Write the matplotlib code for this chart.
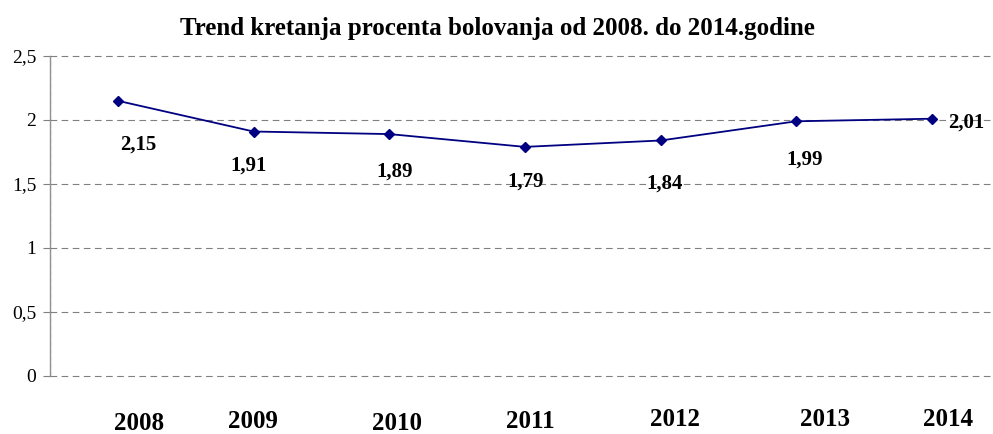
import matplotlib
matplotlib.use("Agg")
import matplotlib.pyplot as plt

years = ["2008", "2009", "2010", "2011", "2012", "2013", "2014"]
values = [2.15, 1.91, 1.89, 1.79, 1.84, 1.99, 2.01]
value_labels = ["2,15", "1,91", "1,89", "1,79", "1,84", "1,99", "2,01"]
yticks = [0, 0.5, 1, 1.5, 2, 2.5]
ytick_labels = ["0", "0,5", "1", "1,5", "2", "2,5"]
title = "Trend kretanja procenta bolovanja od 2008. do 2014.godine"

# label offsets in pixels (dx right, dy down)
val_offsets = [(20, 44), (-5, 34.5), (5, 38), (1, 35), (4, 43.5), (8, 38), (34, 4)]
year_offsets = [(21, 47), (-1, 46), (8, 47), (5, 46), (14, 44), (29, 44), (16, 44)]

W, H, DPI = 993, 434, 100
fig = plt.figure(figsize=(W / DPI, H / DPI), dpi=DPI)
ax = fig.add_axes([50 / W, (H - 376) / H, 950 / W, 320 / H])

serif = "Liberation Serif"
navy = "#000080"
px = 72 / DPI

x = list(range(len(years)))
ax.plot(x, values, color=navy, lw=1.3, marker="D", ms=5.5, mfc=navy, mec=navy, zorder=3, clip_on=False)

ax.set_xlim(-0.5, len(years) - 0.5)
ax.set_ylim(0, 2.5)
ax.set_yticks(yticks)
ax.set_yticklabels(ytick_labels, fontfamily=serif, fontsize=14)
ax.set_xticks([])

for yv in yticks:
    ax.axhline(yv, color="#808080", lw=0.8, ls=(0, (6, 4)), zorder=1, clip_on=False)

for s in ["top", "right", "bottom"]:
    ax.spines[s].set_visible(False)
ax.spines["left"].set_color("#909090")
ax.spines["left"].set_linewidth(1.0)
ax.axvline(-0.5, color="#505050", lw=0.8, ls=(0, (4, 3)), zorder=2)
ax.tick_params(axis="y", direction="out", length=5, width=0.8, color="#808080", pad=5, labelcolor="black")

for i, (lab, (dx, dy)) in enumerate(zip(value_labels, val_offsets)):
    ax.annotate(lab, xy=(i, values[i]), xytext=(dx * px, -dy * px), textcoords="offset points",
                ha="center", va="center", fontfamily=serif, fontweight="bold", fontsize=15, zorder=4)

for i, (lab, (dx, dy)) in enumerate(zip(years, year_offsets)):
    ax.annotate(lab, xy=(i, 0), xycoords=("data", "axes fraction"), xytext=(dx * px, -dy * px),
                textcoords="offset points", ha="center", va="center", fontfamily=serif,
                fontweight="bold", fontsize=18, annotation_clip=False)

fig.text(497 / W, 1 - 29 / H, title, ha="center", va="center", fontfamily=serif,
         fontweight="bold", fontsize=18)

fig.savefig("out.png", dpi=DPI)
